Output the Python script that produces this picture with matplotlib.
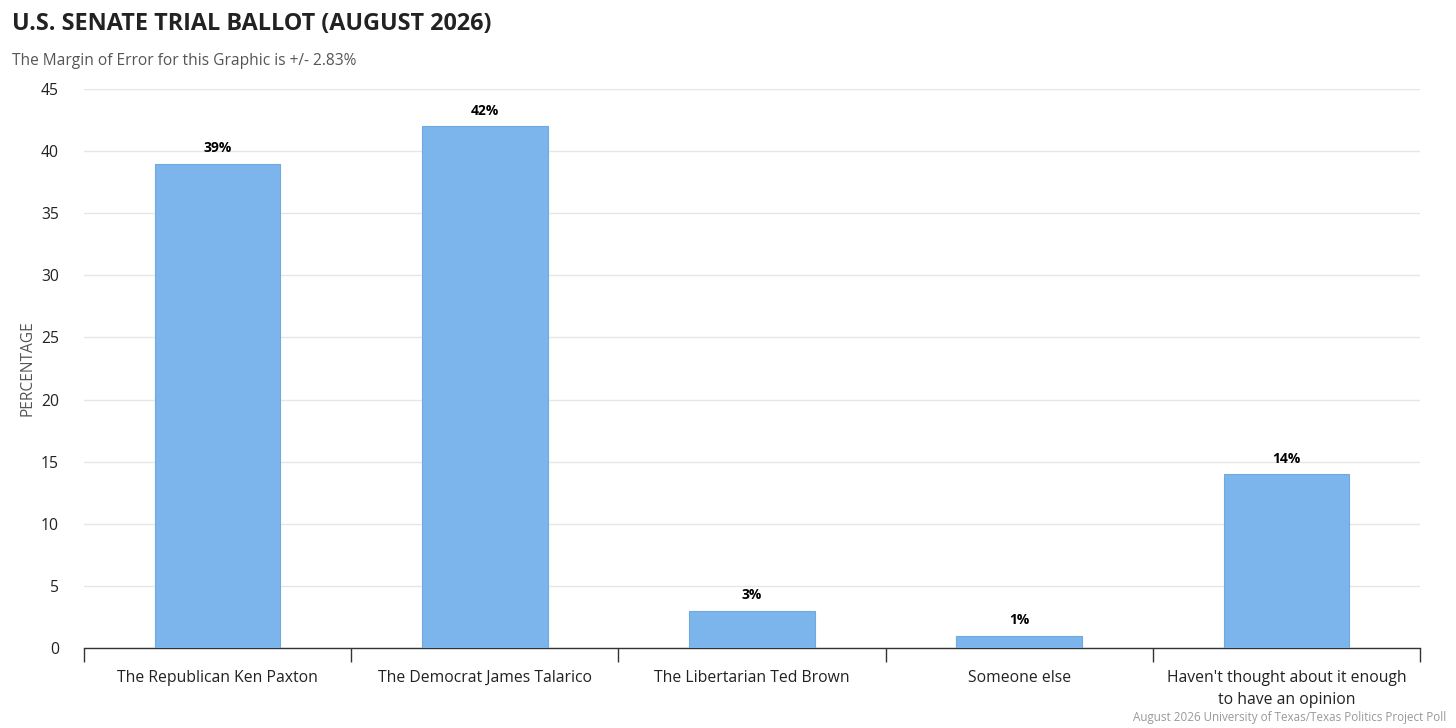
import matplotlib
matplotlib.use("Agg")
import matplotlib.pyplot as plt
import numpy as np

plt.rcParams['font.family'] = ['Open Sans', 'DejaVu Sans']

categories = ["The Republican Ken Paxton", "The Democrat James Talarico",
              "The Libertarian Ted Brown", "Someone else",
              "Haven't thought about it enough\nto have an opinion"]
values = [39, 42, 3, 1, 14]
yticks = [0, 5, 10, 15, 20, 25, 30, 35, 40, 45]

title = "U.S. SENATE TRIAL BALLOT (AUGUST 2026)"
subtitle = "The Margin of Error for this Graphic is +/- 2.83%"
ylabel = "PERCENTAGE"
credit = "August 2026 University of Texas/Texas Politics Project Poll"

W, H = 1456, 728
fig = plt.figure(figsize=(W/100, H/100), dpi=100)
ax = fig.add_axes([84/W, 1-648/H, (1420-84)/W, (648-89)/H])

x = np.arange(len(categories))
ax.bar(x, values, width=0.47, color="#7cb5ec", edgecolor="#6fa9e0", linewidth=0.8, zorder=3)

for xi, v in zip(x, values):
    ax.annotate(f"{v}%", (xi, v), xytext=(0, 6), textcoords="offset points",
                ha="center", va="bottom", fontsize=10, fontweight="bold", color="#000000")

ax.set_xlim(-0.5, len(categories)-0.5)
ax.set_ylim(0, 45)
ax.set_yticks(yticks)
ax.set_yticklabels([str(t) for t in yticks], fontsize=11.3, color="#222222")
ax.tick_params(axis="y", length=0, pad=18)
ax.grid(axis="y", color="#e6e6e6", linewidth=1, zorder=0)
ax.set_axisbelow(True)

ax.set_xticks(x)
ax.set_xticklabels(categories, fontsize=11.3, color="#222222", linespacing=1.45)
ax.tick_params(axis="x", which="major", length=0, pad=16)
ax.set_xticks(np.arange(len(categories)+1)-0.5, minor=True)
ax.tick_params(axis="x", which="minor", length=10, width=1, color="#333333")

for s in ["top", "right", "left"]:
    ax.spines[s].set_visible(False)
ax.spines["bottom"].set_color("#333333")
ax.spines["bottom"].set_linewidth(1)

ax.set_ylabel(ylabel, fontsize=11.2, color="#555555", labelpad=4)

fig.text(12/W, 1-24/H, title, fontsize=16.8, fontweight="bold", color="#222222", ha="left", va="center")
fig.text(12/W, 1-61/H, subtitle, fontsize=11.2, color="#555555", ha="left", va="center")
fig.text(1446/W, 1-717/H, credit, fontsize=8.4, color="#999999", ha="right", va="center")

fig.savefig("out.png", dpi=100, facecolor="white")
